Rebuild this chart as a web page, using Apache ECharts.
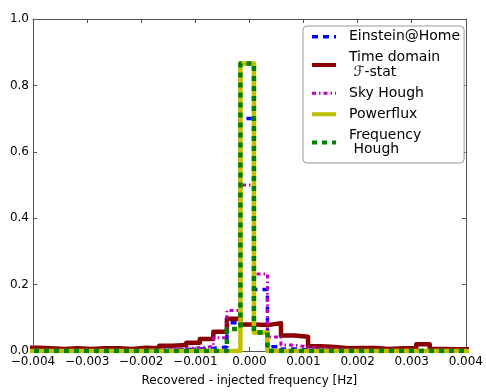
<!DOCTYPE html>
<html>
<head>
<meta charset="utf-8">
<script src="https://cdn.jsdelivr.net/npm/echarts@6/dist/echarts.min.js"></script>
<style>
  html, body { margin: 0; padding: 0; background: #fff; }
  #chart { width: 486px; height: 392px; }
</style>
</head>
<body>
<div id="chart"></div>
<script>
// Histogram bins: lower edge of the first bin and common bin width [Hz]
const firstEdge = -0.0041667;
const binWidth = 0.00025;

// Fraction of recovered signals per frequency-offset bin
const einsteinAtHome = [0, 0, 0, 0, 0, 0, 0, 0, 0, 0,
  0.003, 0.004, 0.006, 0.008, 0.012, 0.085, 0.700, 0.185, 0.013, 0.006, 0.004, 0.003,
  0, 0, 0, 0, 0, 0, 0, 0, 0, 0, 0, 0];
const timeDomainFstat = [0.010, 0.008, 0.006, 0.008, 0.006, 0.008, 0.008, 0.006, 0.010, 0.008,
  0.016, 0.018, 0.025, 0.036, 0.058, 0.097, 0.080, 0.078, 0.084, 0.047, 0.043, 0.014,
  0.012, 0.008, 0.009, 0.009, 0.006, 0.008, 0.008, 0.020, 0.006, 0.005, 0.005, 0.005];
const skyHough = [0.002, 0.002, 0.002, 0.002, 0.002, 0.002, 0.002, 0.002, 0.002,
  0.004, 0.006, 0.008, 0.010, 0.014, 0.040, 0.122, 0.500, 0.232, 0.042, 0.018, 0.012, 0.008, 0.006, 0.004,
  0.002, 0.002, 0.002, 0.002, 0.002, 0.002, 0.002, 0.002, 0.002, 0.002];
const powerflux = [0, 0, 0, 0, 0, 0, 0, 0, 0, 0, 0, 0, 0, 0, 0, 0,
  0.866, 0.056, 0, 0, 0, 0, 0, 0, 0, 0, 0, 0, 0, 0, 0, 0, 0, 0];
const frequencyHough = [0, 0, 0, 0, 0, 0, 0, 0, 0, 0, 0, 0, 0, 0, 0, 0.066,
  0.866, 0.056, 0, 0, 0, 0, 0, 0, 0, 0, 0, 0, 0, 0, 0, 0, 0, 0];

const seriesNames = ['Einstein@Home', 'Time domain\n \u2131-stat', 'Sky Hough', 'Powerflux', 'Frequency\n Hough'];

// Axis ranges and ticks
const xMin = -0.004, xMax = 0.004, xStep = 0.001;
const yMin = 0, yMax = 1.0, yStep = 0.2;
const xTitle = 'Recovered - injected frequency [Hz]';

// Step outline of a histogram: one point per bin at its lower edge,
// plus the closing upper edge of the last bin.
function stepData(values) {
  const pts = values.map((v, i) => [firstEdge + i * binWidth, v]);
  pts.push([firstEdge + values.length * binWidth, values[values.length - 1]]);
  return pts;
}

const font = 'DejaVu Sans';
const frameColor = '#555';

// Line look of each method (shared by the plot and the legend sample)
const styles = [
  { color: '#0000ff', width: 3.5, type: [6, 5] },
  { color: '#8b0000', width: 4.5, type: 'solid' },
  { color: '#bf00bf', width: 3, type: [4, 3, 1.5, 3] },
  { color: '#bfbf00', width: 4.5, type: 'solid' },
  { color: '#008000', width: 4.5, type: [5, 5] }
];
const legendWidths = [3.5, 4, 3, 4, 4];

function lineSeries(name, values, style) {
  return {
    name: name,
    type: 'line',
    step: 'end',
    symbol: 'none',
    showSymbol: false,
    clip: true,
    animation: false,
    data: stepData(values),
    color: style.color,
    // no point markers, so the legend shows only the line sample
    itemStyle: { color: style.color, opacity: 0 },
    lineStyle: Object.assign({ join: 'round', cap: 'butt' }, style)
  };
}

const xFmt = v => {
  const r = Math.round(v / xStep);
  const s = Math.abs(r * xStep).toFixed(3);
  return r < 0 ? '\u2212' + s : s;
};

const chart = echarts.init(document.getElementById('chart'), null, { renderer: 'canvas' });
chart.setOption({
  animation: false,
  backgroundColor: '#fff',
  grid: { left: 33, right: 16.5, top: 19, bottom: 36, containLabel: false },
  xAxis: [
    {
      type: 'value', min: xMin, max: xMax, interval: xStep, position: 'bottom',
      name: xTitle, nameLocation: 'middle', nameGap: 24,
      nameTextStyle: { fontFamily: font, fontSize: 12, color: '#000' },
      axisLine: { onZero: false, lineStyle: { color: frameColor, width: 1 } },
      axisTick: { inside: true, length: 4, lineStyle: { color: frameColor } },
      splitLine: { show: false },
      axisLabel: { formatter: xFmt, fontFamily: font, fontSize: 12, color: '#000', margin: 5,
                   showMinLabel: true, showMaxLabel: true }
    },
    {
      type: 'value', min: xMin, max: xMax, interval: xStep, position: 'top',
      axisLine: { onZero: false, lineStyle: { color: frameColor, width: 1 } },
      axisTick: { inside: true, length: 4, lineStyle: { color: frameColor } },
      splitLine: { show: false },
      axisLabel: { show: false }
    }
  ],
  yAxis: [
    {
      type: 'value', min: yMin, max: yMax, interval: yStep, position: 'left',
      axisLine: { onZero: false, show: true, lineStyle: { color: frameColor, width: 1 } },
      axisTick: { show: true, inside: true, length: 4, lineStyle: { color: frameColor } },
      splitLine: { show: false },
      axisLabel: { formatter: v => v.toFixed(1), fontFamily: font, fontSize: 12, color: '#000', margin: 4 }
    },
    {
      type: 'value', min: yMin, max: yMax, interval: yStep, position: 'right',
      axisLine: { onZero: false, show: true, lineStyle: { color: frameColor, width: 1 } },
      axisTick: { show: true, inside: true, length: 4, lineStyle: { color: frameColor } },
      splitLine: { show: false },
      axisLabel: { show: false }
    }
  ],
  legend: {
    orient: 'vertical',
    left: 303, top: 26,
    itemWidth: 24, itemHeight: 10, itemGap: 6.5,
    padding: [3.5, 4, 6, 7],
    backgroundColor: '#fff',
    borderColor: '#999', borderWidth: 1, borderRadius: 4,
    textStyle: { fontFamily: font, fontSize: 14, lineHeight: 14.5, color: '#000', padding: [0, 0, 0, 8] },
    data: seriesNames.map((n, i) => ({
      name: n,
      lineStyle: { width: legendWidths[i], color: styles[i].color, type: styles[i].type, cap: 'butt' }
    }))
  },
  series: seriesNames.map((n, i) =>
    lineSeries(n, [einsteinAtHome, timeDomainFstat, skyHough, powerflux, frequencyHough][i], styles[i]))
});
</script>
</body>
</html>
